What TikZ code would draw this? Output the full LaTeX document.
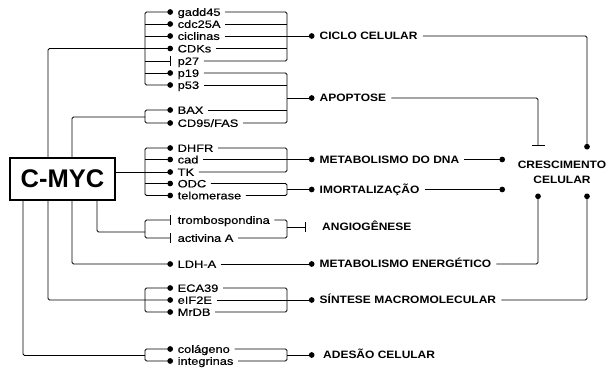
\documentclass[tikz,border=0pt]{standalone}
\usepackage{fontspec}
\setmainfont{Liberation Sans}
\newfontfamily\itf[FakeStretch=1.2,FakeBold=0.35]{Liberation Sans}
\newfontfamily\lbf[FakeStretch=1.12]{Liberation Sans}
\usetikzlibrary{arrows.meta}
\tikzset{
  conn/.style={line width=0.9pt, rounded corners=1.5pt},
  dot/.tip={Circle[length=5.6pt]},
  tbar/.tip={Bar[width=10pt,line width=1pt]},
  bigbar/.tip={Bar[width=13pt,line width=1pt]},
  item/.style={anchor=west, inner xsep=4.5pt, inner ysep=0pt, text height=7.8pt, text depth=0pt,
    font=\itf\fontsize{10.7}{12}\selectfont},
  lab/.style={anchor=west, inner xsep=5pt, inner ysep=0pt, text height=7.8pt, text depth=0pt,
    font=\lbf\bfseries\fontsize{10.7}{12}\selectfont},
  mycbox/.style={draw, line width=1.6pt, minimum width=105pt, minimum height=42pt, inner sep=0pt,
    font=\bfseries\fontsize{25.5}{28}\selectfont},
  cresnode/.style={align=center, inner sep=0pt, font=\lbf\bfseries\fontsize{10.7}{15}\selectfont}
}
\begin{document}
\begin{tikzpicture}[x=1pt,y=-1pt]
\useasboundingbox[fill=white] (0,0) rectangle (608,369);

% main node
\node[mycbox] (myc) at (62.5,179) {C-MYC};

% trunk and bracket x positions
\coordinate (tE) at (23,0);
\coordinate (tA) at (48,0);
\coordinate (tB) at (72,0);
\coordinate (tD) at (97,0);
\coordinate (bl) at (145,0);
\coordinate (br) at (287,0);

% items
\node[item] (gadd)  at (173,12)  {gadd45};
\node[item] (cdc)   at (173,24)  {cdc25A};
\node[item] (cicl)  at (173,36)  {ciclinas};
\node[item] (cdks)  at (173,48.5){CDKs};
\node[item] (p27)   at (173,61)  {p27};
\node[item] (p19)   at (173,73)  {p19};
\node[item] (p53)   at (173,85)  {p53};
\node[item] (bax)   at (173,110) {BAX};
\node[item] (cd95)  at (173,123) {CD95/FAS};
\node[item] (dhfr)  at (173,148) {DHFR};
\node[item] (cad)   at (173,159.5){cad};
\node[item] (tk)    at (173,172) {TK};
\node[item] (odc)   at (173,183.5){ODC};
\node[item] (telo)  at (173,195.5){telomerase};
\node[item] (trom)  at (173,220) {trombospondina};
\node[item] (activ) at (173,238) {activina A};
\node[item] (ldh)   at (173,264) {LDH-A};
\node[item] (eca)   at (173,288) {ECA39};
\node[item] (eif)   at (173,300) {eIF2E};
\node[item] (mrdb)  at (173,312) {MrDB};
\node[item] (col)   at (173,349) {colágeno};
\node[item] (integ) at (173,361) {integrinas};

% labels
\node[lab] (ciclo)  at (314.5,36)   {CICLO CELULAR};
\node[lab] (apop)   at (314.5,98)   {APOPTOSE};
\node[lab] (metdna) at (314.5,159.5){METABOLISMO DO DNA};
\node[lab] (imort)  at (314.5,189.5){IMORTALIZAÇÃO};
\node[lab] (angio)  at (317,227)    {ANGIOGÊNESE};
\node[lab] (meten)  at (314.5,264)  {METABOLISMO ENERGÉTICO};
\node[lab] (sint)   at (314.5,300)  {SÍNTESE MACROMOLECULAR};
\node[lab, inner xsep=8.5pt] (ades) at (314.5,355) {ADESÃO CELULAR};
\node[cresnode] (cres) at (562,172.5) {CRESCIMENTO\\CELULAR};

% bracket joint coordinates
\coordinate (g2in) at (145,117);
\coordinate (g4in) at (145,232);
\coordinate (g7in) at (145,355.5);
\coordinate (abar) at (306,227);
\coordinate (cTR) at (587,149.5);
\coordinate (cTL) at (538,146);
\coordinate (cBL) at (538,193.5);
\coordinate (cBR) at (587,193.5);
\coordinate (cL1) at (505,159.5);
\coordinate (cL2) at (505,189.5);

% ---- left side: C-MYC to items ----
% group 1
\draw[conn,-dot] (myc.north -| tA) |- (cdks.west);
\draw[conn,-dot] (cdks.west -| bl) |- (gadd.west);
\draw[conn,-dot] (cdks.west -| bl) |- (p53.west);
\foreach \n in {cdc,cicl,p19} \draw[conn,-dot] (\n.west -| bl) -- (\n.west);
\draw[conn,-tbar] (p27.west -| bl) -- ([xshift=-2pt]p27.west);
% group 2
\draw[conn] (myc.north -| tB) |- (g2in);
\draw[conn,-dot] (g2in) |- (bax.west);
\draw[conn,-dot] (g2in) |- (cd95.west);
% group 3
\draw[conn,-dot] (myc.east |- tk.west) -- (tk.west);
\draw[conn,-dot] (tk.west -| bl) |- (dhfr.west);
\draw[conn,-dot] (tk.west -| bl) |- (telo.west);
\foreach \n in {cad,odc} \draw[conn,-dot] (\n.west -| bl) -- (\n.west);
% group 4
\draw[conn] (myc.south -| tD) |- (g4in);
\draw[conn,-tbar] (g4in) |- ([xshift=-2pt]trom.west);
\draw[conn,-tbar] (g4in) |- ([xshift=-2pt]activ.west);
% LDH-A
\draw[conn,-dot] (myc.south -| tB) |- (ldh.west);
% group 6
\draw[conn,-dot] (myc.south -| tA) |- (eif.west);
\draw[conn,-dot] (eif.west -| bl) |- (eca.west);
\draw[conn,-dot] (eif.west -| bl) |- (mrdb.west);
% group 7
\draw[conn] (myc.south -| tE) |- (g7in);
\draw[conn,-dot] (g7in) |- (col.west);
\draw[conn,-dot] (g7in) |- (integ.west);

% ---- right brackets ----
\draw[conn] (gadd.east) -| (cicl.east -| br) |- (p27.east);
\foreach \n in {cdc,cdks} \draw[conn] (\n.east) -- (\n.east -| br);
\draw[conn,-dot] (cicl.east) -- (ciclo.west);

\draw[conn] (p19.east) -| (apop.west -| br) |- (cd95.east);
\foreach \n in {p53,bax} \draw[conn] (\n.east) -- (\n.east -| br);
\draw[conn,-dot] (apop.west -| br) -- (apop.west);

\draw[conn] (dhfr.east) -| (cad.east -| br) |- (tk.east);
\draw[conn,-dot] (cad.east) -- (metdna.west);

\draw[conn] (odc.east) -| (imort.west -| br) |- (telo.east);
\draw[conn,-dot] (imort.west -| br) -- (imort.west);

\draw[conn] (trom.east) -| (angio.west -| br) |- (activ.east);
\draw[conn,-tbar] (angio.west -| br) -- (abar);

\draw[conn,-dot] (ldh.east) -- (meten.west);

\draw[conn] (eca.east) -| (eif.east -| br) |- (mrdb.east);
\draw[conn,-dot] (eif.east) -- (sint.west);

\draw[conn] (col.east) -| (ades.west -| br) |- (integ.east);
\draw[conn,-dot] (ades.west -| br) -- (ades.west);

% ---- to CRESCIMENTO CELULAR ----
\draw[conn,-dot] (ciclo.east) -| (cTR);
\draw[conn,-bigbar] (apop.east) -| (cTL);
\draw[conn,-dot] (metdna.east) -- (cL1);
\draw[conn,-dot] (imort.east) -- (cL2);
\draw[conn,-dot] (meten.east) -| (cBL);
\draw[conn,-dot] (sint.east) -| (cBR);
\end{tikzpicture}
\end{document}
